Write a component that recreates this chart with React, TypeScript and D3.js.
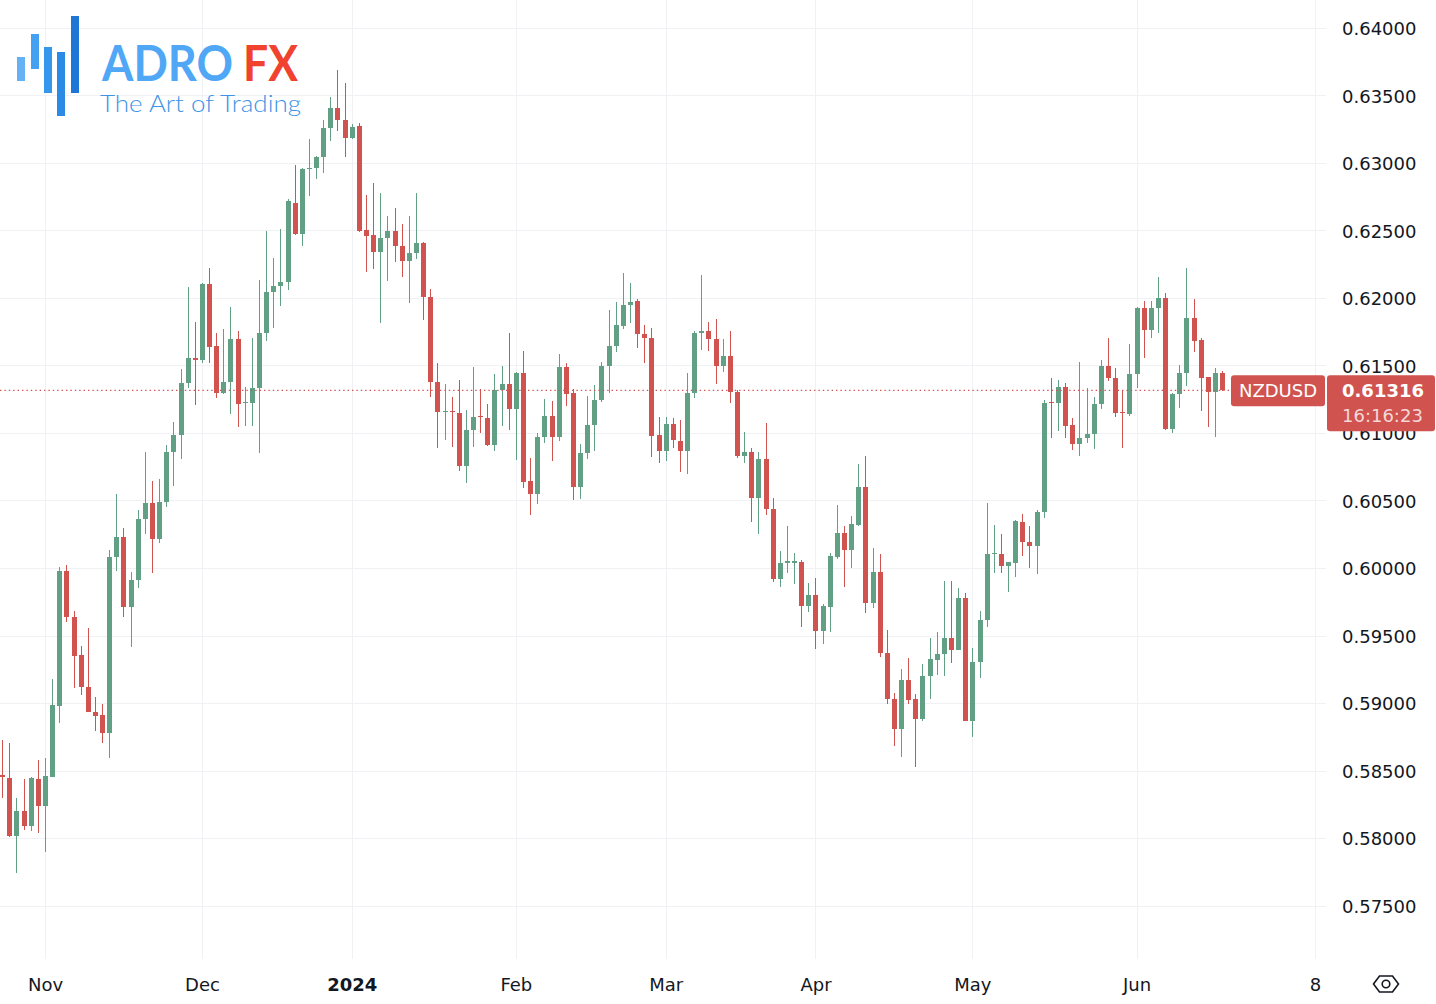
import React, { useRef, useEffect } from "react";
import * as d3 from "d3";

// NZDUSD daily candles, [open, high, low, close], one array per month
const oct2023 = [
  [0.58464, 0.58726, 0.58296, 0.58454],
  [0.58447, 0.58706, 0.5801, 0.58015],
  [0.58017, 0.58299, 0.57743, 0.58202],
  [0.58202, 0.58439, 0.58059, 0.58091],
  [0.58091, 0.58454, 0.58054, 0.58442],
  [0.58439, 0.58578, 0.58039, 0.58239],
];
const nov2023 = [
  [0.58239, 0.5859, 0.57899, 0.58459],
  [0.58454, 0.59176, 0.5845, 0.58985],
  [0.5898, 0.60005, 0.5885, 0.5998],
  [0.5998, 0.60022, 0.59602, 0.59635],
  [0.59635, 0.59681, 0.59113, 0.5935],
  [0.59355, 0.59422, 0.59059, 0.59116],
  [0.59121, 0.59553, 0.5893, 0.58936],
  [0.58936, 0.59047, 0.58793, 0.58906],
  [0.58911, 0.58993, 0.58706, 0.58776],
  [0.58776, 0.60133, 0.5859, 0.60079],
  [0.60079, 0.60548, 0.5998, 0.60232],
  [0.60232, 0.60294, 0.59639, 0.59709],
  [0.59709, 0.59973, 0.59413, 0.59911],
  [0.59911, 0.6043, 0.5985, 0.60365],
  [0.60365, 0.60861, 0.6025, 0.60484],
  [0.60484, 0.60644, 0.59965, 0.60213],
  [0.60213, 0.60657, 0.60183, 0.60491],
  [0.60491, 0.60911, 0.6045, 0.60861],
  [0.60861, 0.61079, 0.6061, 0.60985],
  [0.60985, 0.61472, 0.60805, 0.61373],
  [0.61373, 0.62084, 0.61331, 0.61553],
  [0.61553, 0.61824, 0.61207, 0.61541],
];
const dec2023 = [
  [0.61541, 0.62113, 0.61516, 0.62101],
  [0.62101, 0.6222, 0.61516, 0.61639],
  [0.61644, 0.61739, 0.61257, 0.61294],
  [0.61294, 0.61768, 0.61289, 0.6138],
  [0.6138, 0.61931, 0.61139, 0.61696],
  [0.61696, 0.61758, 0.61042, 0.61213],
  [0.61224, 0.61343, 0.61054, 0.61232],
  [0.61224, 0.61701, 0.61054, 0.61333],
  [0.61333, 0.62133, 0.6085, 0.61739],
  [0.61739, 0.62499, 0.61681, 0.62047],
  [0.62047, 0.62294, 0.6178, 0.62089],
  [0.62089, 0.62511, 0.61943, 0.62116],
  [0.62116, 0.62731, 0.62059, 0.62719],
  [0.62706, 0.62985, 0.6247, 0.62474],
  [0.62474, 0.62965, 0.62387, 0.62953],
  [0.62953, 0.63178, 0.62756, 0.62965],
  [0.62961, 0.63054, 0.62879, 0.63047],
  [0.63047, 0.63319, 0.62924, 0.63261],
  [0.63261, 0.63491, 0.63163, 0.6341],
  [0.6341, 0.63689, 0.63239, 0.63319],
  [0.63319, 0.6359, 0.63047, 0.63183],
];
const jan2024 = [
  [0.63183, 0.63287, 0.6318, 0.63269],
  [0.63274, 0.63294, 0.62491, 0.62499],
  [0.62504, 0.62763, 0.62195, 0.62461],
  [0.62467, 0.62854, 0.62213, 0.62338],
  [0.62338, 0.62776, 0.61813, 0.62442],
  [0.62442, 0.62607, 0.62126, 0.62499],
  [0.62499, 0.62664, 0.62269, 0.62387],
  [0.62387, 0.62546, 0.62158, 0.62274],
  [0.62274, 0.62607, 0.61961, 0.62331],
  [0.62331, 0.62776, 0.62287, 0.62405],
  [0.6241, 0.62417, 0.61837, 0.62005],
  [0.62005, 0.62067, 0.61269, 0.6138],
  [0.6138, 0.61516, 0.60887, 0.61158],
  [0.61158, 0.61363, 0.60948, 0.61165],
  [0.61165, 0.61269, 0.60899, 0.61158],
  [0.6115, 0.61393, 0.60719, 0.60758],
  [0.60758, 0.6117, 0.60627, 0.61022],
  [0.61022, 0.61491, 0.60894, 0.61121],
  [0.61126, 0.61326, 0.61002, 0.61116],
  [0.61109, 0.61215, 0.60906, 0.60911],
  [0.60911, 0.61437, 0.60869, 0.61319],
  [0.61319, 0.61496, 0.61052, 0.61363],
  [0.61363, 0.61739, 0.61022, 0.61176],
];
const feb2024 = [
  [0.61176, 0.61454, 0.608, 0.61447],
  [0.61442, 0.61607, 0.6059, 0.60639],
  [0.60644, 0.60813, 0.60393, 0.60546],
  [0.60546, 0.60998, 0.60472, 0.60973],
  [0.60973, 0.6125, 0.60928, 0.61126],
  [0.61126, 0.61237, 0.60793, 0.60968],
  [0.60968, 0.61583, 0.60941, 0.61491],
  [0.61491, 0.61516, 0.61202, 0.61289],
  [0.61294, 0.61324, 0.60504, 0.60602],
  [0.60602, 0.60919, 0.60511, 0.60854],
  [0.60854, 0.61276, 0.60805, 0.61059],
  [0.61059, 0.61356, 0.60867, 0.61244],
  [0.61244, 0.61524, 0.61227, 0.61496],
  [0.61496, 0.61911, 0.61296, 0.61644],
  [0.61644, 0.61973, 0.61602, 0.618],
  [0.61795, 0.62183, 0.61768, 0.61948],
  [0.61948, 0.62109, 0.61813, 0.61973],
  [0.61978, 0.6199, 0.61627, 0.61731],
  [0.61731, 0.618, 0.61521, 0.61701],
  [0.61701, 0.61776, 0.6082, 0.6098],
  [0.60985, 0.61121, 0.60776, 0.60867],
];
const mar2024 = [
  [0.60867, 0.61116, 0.60793, 0.61067],
  [0.61067, 0.61113, 0.60887, 0.60948],
  [0.60943, 0.61096, 0.60713, 0.60867],
  [0.60867, 0.61442, 0.60694, 0.61294],
  [0.61294, 0.61758, 0.61257, 0.61743],
  [0.61739, 0.6217, 0.61615, 0.61758],
  [0.61758, 0.61824, 0.61607, 0.61694],
  [0.61696, 0.61844, 0.61361, 0.61496],
  [0.61496, 0.61696, 0.61454, 0.6157],
  [0.6157, 0.61756, 0.61224, 0.61306],
  [0.61306, 0.61319, 0.60813, 0.60832],
  [0.60832, 0.61005, 0.6078, 0.60857],
  [0.60857, 0.60887, 0.60343, 0.60516],
  [0.60516, 0.60857, 0.6025, 0.60807],
  [0.60807, 0.61072, 0.60393, 0.60437],
  [0.60437, 0.60516, 0.59899, 0.59919],
  [0.59919, 0.60128, 0.59861, 0.60035],
  [0.60039, 0.60311, 0.59965, 0.6005],
  [0.60039, 0.60109, 0.59881, 0.6005],
  [0.60047, 0.60059, 0.59565, 0.59721],
  [0.59721, 0.59887, 0.59676, 0.598],
];
const apr2024 = [
  [0.598, 0.59928, 0.59398, 0.59533],
  [0.59533, 0.59733, 0.59437, 0.59721],
  [0.59713, 0.60113, 0.59524, 0.60091],
  [0.60084, 0.60467, 0.60064, 0.60257],
  [0.60257, 0.60311, 0.59861, 0.60133],
  [0.60133, 0.60385, 0.59998, 0.60326],
  [0.60319, 0.6077, 0.60311, 0.60602],
  [0.60602, 0.6083, 0.59664, 0.59743],
  [0.59743, 0.6015, 0.59701, 0.59968],
  [0.59968, 0.60102, 0.59343, 0.59368],
  [0.59368, 0.59543, 0.5899, 0.5903],
  [0.5903, 0.59072, 0.58684, 0.58807],
  [0.58807, 0.59252, 0.58602, 0.5917],
  [0.5917, 0.59336, 0.58993, 0.59022],
  [0.59027, 0.59067, 0.58528, 0.58881],
  [0.58881, 0.59289, 0.58867, 0.592],
  [0.592, 0.59484, 0.59027, 0.59324],
  [0.59319, 0.59524, 0.59207, 0.59363],
  [0.59363, 0.59901, 0.59202, 0.59484],
  [0.59484, 0.59904, 0.59294, 0.59393],
  [0.59393, 0.59852, 0.5939, 0.5978],
  [0.5978, 0.59813, 0.58865, 0.58867],
];
const may2024 = [
  [0.58867, 0.59405, 0.5875, 0.59302],
  [0.59302, 0.59681, 0.59185, 0.59615],
  [0.59615, 0.60484, 0.59561, 0.60104],
  [0.60102, 0.60319, 0.59961, 0.60109],
  [0.60104, 0.60252, 0.59961, 0.60017],
  [0.60017, 0.60047, 0.59824, 0.60042],
  [0.60039, 0.60356, 0.59931, 0.60348],
  [0.60343, 0.604, 0.60091, 0.60195],
  [0.60195, 0.60311, 0.60002, 0.60165],
  [0.60165, 0.6043, 0.59953, 0.60413],
  [0.60413, 0.61244, 0.60368, 0.61224],
  [0.61227, 0.61405, 0.60961, 0.6122],
  [0.6122, 0.61393, 0.61015, 0.61343],
  [0.61339, 0.61373, 0.60965, 0.61054],
  [0.61059, 0.61109, 0.60874, 0.60916],
  [0.60916, 0.61526, 0.60832, 0.60961],
  [0.60961, 0.61331, 0.60928, 0.6099],
  [0.6099, 0.61269, 0.60879, 0.61213],
  [0.61215, 0.61541, 0.61176, 0.61496],
  [0.61496, 0.61706, 0.61385, 0.61405],
  [0.6141, 0.61479, 0.61116, 0.6115],
  [0.61158, 0.61319, 0.60891, 0.6115],
  [0.61139, 0.61659, 0.61126, 0.61435],
];
const jun2024 = [
  [0.61435, 0.61936, 0.61336, 0.61928],
  [0.61928, 0.6198, 0.61558, 0.61763],
  [0.61763, 0.6198, 0.61706, 0.61924],
  [0.61924, 0.62158, 0.61743, 0.61998],
  [0.61998, 0.62035, 0.61022, 0.61027],
  [0.61027, 0.61294, 0.60998, 0.61287],
  [0.61287, 0.61504, 0.61183, 0.61442],
  [0.61442, 0.6222, 0.61348, 0.61854],
  [0.61854, 0.6199, 0.61602, 0.61681],
  [0.61689, 0.61706, 0.61163, 0.6141],
  [0.61417, 0.61417, 0.61047, 0.61306],
  [0.61306, 0.61484, 0.60973, 0.61442],
  [0.61442, 0.61459, 0.61313, 0.61316],
];

const candles = [
  ...oct2023, ...nov2023, ...dec2023, ...jan2024,
  ...feb2024, ...mar2024, ...apr2024, ...may2024, ...jun2024,
];

const priceTicks = [
  0.575, 0.58, 0.585, 0.59, 0.595, 0.6, 0.605,
  0.61, 0.615, 0.62, 0.625, 0.63, 0.635, 0.64,
];
// time axis labels and the bar index they sit on
const timeLabels = ["Nov", "Dec", "2024", "Feb", "Mar", "Apr", "May", "Jun", "8"];
const timeIndex = [6, 28, 49, 72, 93, 114, 136, 159, 184];

const symbol = "NZDUSD";
const lastPrice = 0.61316;
const countdown = "16:16:23";

const UP = "#62a086";
const DOWN = "#d05350";
const GRID = "#f0f1f4";
const FONT = "'DejaVu Sans', sans-serif";

const App = () => {
  const ref = useRef(null);

  useEffect(() => {
    if (!ref.current) return;
    const svg = d3.select(ref.current);
    svg.selectAll("*").remove();

    const paneRight = 1326;
    const paneBottom = 959;

    const x = d3.scaleLinear().domain([6, 159]).range([45, 1136.5]);
    const y = d3.scaleLinear().domain([0.575, 0.64]).range([905.5, 28]);

    svg.append("rect").attr("width", 1436).attr("height", 1004).attr("fill", "#fff");

    svg.append("defs").append("clipPath").attr("id", "pane")
      .append("rect").attr("width", paneRight).attr("height", paneBottom);

    // grid
    const grid = svg.append("g").attr("shape-rendering", "crispEdges");
    grid.selectAll("line.h").data(priceTicks).enter().append("line")
      .attr("x1", 0).attr("x2", paneRight)
      .attr("y1", (d) => Math.round(y(d)) + 0.5)
      .attr("y2", (d) => Math.round(y(d)) + 0.5)
      .attr("stroke", GRID);
    grid.selectAll("line.v").data(timeIndex).enter().append("line")
      .attr("y1", 0).attr("y2", paneBottom)
      .attr("x1", (d) => Math.round(x(d)) + 0.5)
      .attr("x2", (d) => Math.round(x(d)) + 0.5)
      .attr("stroke", GRID);

    // logo
    const logo = svg.append("g");
    const bars = [
      [17, 57, 8, 24, "#64b2f5"],
      [31, 34, 8, 35, "#44a1f1"],
      [44, 47, 8, 46, "#3597ec"],
      [57, 52, 8, 64, "#2b8be4"],
      [71, 16, 8, 77, "#1e77d6"],
    ];
    logo.selectAll("rect").data(bars).enter().append("rect")
      .attr("x", (d) => d[0]).attr("y", (d) => d[1])
      .attr("width", (d) => d[2]).attr("height", (d) => d[3])
      .attr("fill", (d) => d[4]);
    logo.append("text").text("ADRO")
      .attr("x", 102).attr("y", 81)
      .attr("font-family", "Lato, sans-serif").attr("font-weight", 700)
      .attr("font-size", 50).attr("fill", "#4fa7f6")
      .attr("textLength", 131).attr("lengthAdjust", "spacingAndGlyphs");
    logo.append("text").text("FX")
      .attr("x", 243).attr("y", 81)
      .attr("font-family", "Lato, sans-serif").attr("font-weight", 700)
      .attr("font-size", 50).attr("fill", "#f1412f")
      .attr("textLength", 55).attr("lengthAdjust", "spacingAndGlyphs");
    logo.append("text").text("The Art of Trading")
      .attr("x", 100).attr("y", 112)
      .attr("font-family", "Lato, sans-serif").attr("font-weight", 300)
      .attr("font-size", 24).attr("fill", "#3d93e5")
      .attr("textLength", 201).attr("lengthAdjust", "spacingAndGlyphs");

    // candles
    const g = svg.append("g").attr("clip-path", "url(#pane)")
      .attr("shape-rendering", "crispEdges");
    const candle = g.selectAll("g.c").data(candles).enter().append("g");
    const cx = (i) => Math.round(x(i));
    const color = (d) => (d[3] >= d[0] ? UP : DOWN);
    candle.append("line")
      .attr("x1", (d, i) => cx(i) + 0.5).attr("x2", (d, i) => cx(i) + 0.5)
      .attr("y1", (d) => y(d[1])).attr("y2", (d) => y(d[2]))
      .attr("stroke", color);
    candle.append("rect")
      .attr("x", (d, i) => cx(i) - 2).attr("width", 5)
      .attr("y", (d) => y(Math.max(d[0], d[3])))
      .attr("height", (d) => Math.max(1, Math.abs(y(d[0]) - y(d[3]))))
      .attr("fill", color);

    // last price line
    svg.append("line")
      .attr("x1", 0).attr("x2", 1231)
      .attr("y1", y(lastPrice)).attr("y2", y(lastPrice))
      .attr("stroke", DOWN).attr("stroke-width", 1.4)
      .attr("stroke-dasharray", "1.4 3");

    // price axis
    const yAxis = svg.append("g")
      .attr("transform", "translate(1342,1)")
      .call(d3.axisRight(y).tickValues(priceTicks).tickFormat(d3.format(".5f"))
        .tickSize(0).tickPadding(0));
    yAxis.select(".domain").remove();
    yAxis.selectAll("text")
      .attr("font-family", FONT).attr("font-size", 18).attr("fill", "#131722");

    // time axis
    const xAxis = svg.append("g")
      .attr("transform", "translate(0,978)")
      .call(d3.axisBottom(x).tickValues(timeIndex)
        .tickFormat((d, i) => timeLabels[i]).tickSize(0).tickPadding(0));
    xAxis.select(".domain").remove();
    xAxis.selectAll("text")
      .attr("font-family", FONT).attr("font-size", 18).attr("fill", "#131722")
      .attr("font-weight", (d, i) => (timeLabels[i] === "2024" ? 700 : 400));

    // symbol and price labels
    const ly = y(lastPrice);
    svg.append("rect")
      .attr("x", 1231).attr("y", ly - 15).attr("width", 94).attr("height", 31)
      .attr("rx", 3).attr("fill", DOWN);
    svg.append("text").text(symbol)
      .attr("x", 1278).attr("y", ly + 7).attr("text-anchor", "middle")
      .attr("font-family", FONT).attr("font-size", 18).attr("fill", "#fff");
    svg.append("rect")
      .attr("x", 1327).attr("y", ly - 15).attr("width", 108).attr("height", 56)
      .attr("rx", 3).attr("fill", DOWN);
    svg.append("text").text(d3.format(".5f")(lastPrice))
      .attr("x", 1342).attr("y", ly + 7)
      .attr("font-family", FONT).attr("font-size", 18).attr("font-weight", 700)
      .attr("fill", "#fff");
    svg.append("text").text(countdown)
      .attr("x", 1342).attr("y", ly + 32)
      .attr("font-family", FONT).attr("font-size", 18)
      .attr("fill", "#fff").attr("fill-opacity", 0.78);

    // settings icon
    const icon = svg.append("g").attr("fill", "none")
      .attr("stroke", "#131722").attr("stroke-width", 1.6);
    icon.append("path").attr("d", "M1373.5,984 L1379.5,976 L1392.5,976 L1398.5,984 L1392.5,992 L1379.5,992 Z");
    icon.append("circle").attr("cx", 1386).attr("cy", 984).attr("r", 3.8);
  }, []);

  return (
    <svg
      ref={ref}
      width={1436}
      height={1004}
      style={{ position: "absolute", left: 0, top: 0, display: "block" }}
    />
  );
};

export default App;
